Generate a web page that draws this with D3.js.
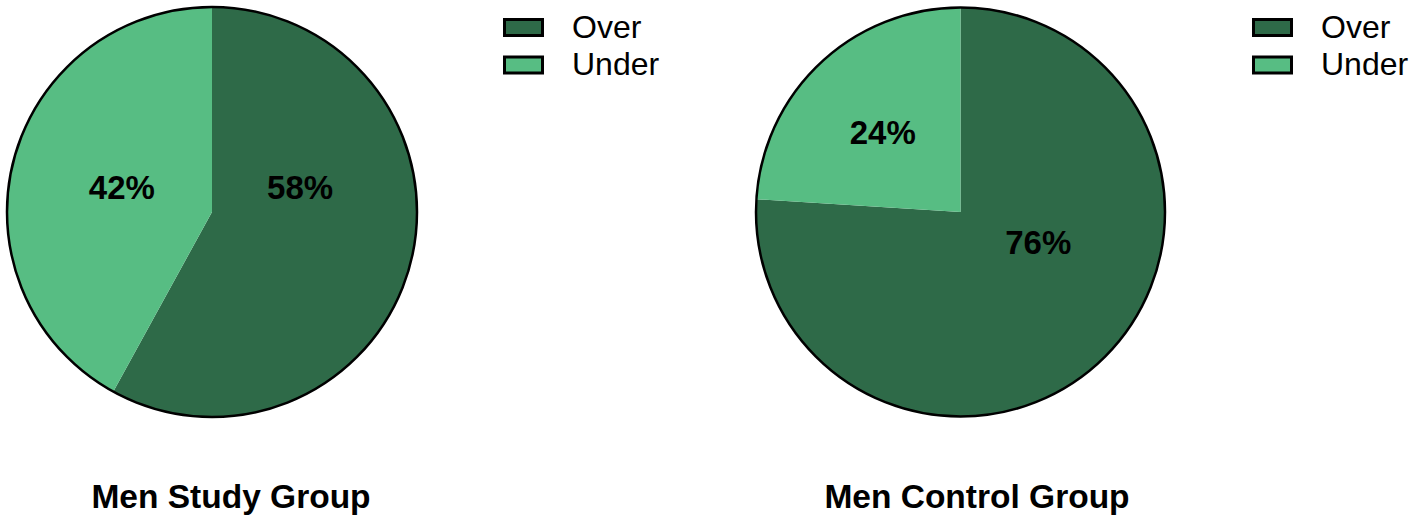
<!DOCTYPE html>
<html><head><meta charset="utf-8">
<script src="https://cdn.jsdelivr.net/npm/d3@7"></script>
<style>html,body{margin:0;padding:0;background:#fff}svg{display:block}</style>
</head><body>
<svg id="c" width="1414" height="523"></svg>
<script>
const categories = ["Over", "Under"];
const groups = ["Men Study Group", "Men Control Group"];
const studyValues = [58, 42];
const controlValues = [76, 24];
const seriesValues = [studyValues, controlValues];

const colors = ["#2e6a48", "#57bd83"];
// layout (per panel)
const panels = [
  {cx: 212, cy: 212, r: 205, legendX: 503, titleX: 231,
   labelPos: [[0.43, -0.12], [-0.44, -0.12]]},
  {cx: 960.5, cy: 212, r: 204.5, legendX: 1252, titleX: 977,
   labelPos: [[0.38, 0.15], [-0.38, -0.39]]}
];

const svg = d3.select("#c");
const pie = d3.pie().sort(null).value(d => d);
const color = d3.scaleOrdinal().domain(categories).range(colors);

panels.forEach((p, gi) => {
  const g = svg.append("g").attr("transform", `translate(${p.cx},${p.cy})`);
  const arc = d3.arc().innerRadius(0).outerRadius(p.r);
  const arcs = pie(seriesValues[gi]);
  g.selectAll("path.slice").data(arcs).join("path")
    .attr("class", "slice")
    .attr("d", arc)
    .attr("fill", (d, i) => color(categories[i]));
  g.append("circle").attr("r", p.r).attr("fill", "none")
    .attr("stroke", "#000").attr("stroke-width", 2.5);
  g.selectAll("text.lab").data(arcs).join("text")
    .attr("class", "lab")
    .attr("x", (d, i) => p.labelPos[i][0] * p.r)
    .attr("y", (d, i) => p.labelPos[i][1] * p.r)
    .attr("text-anchor", "middle")
    .attr("dominant-baseline", "central")
    .attr("font-family", "Liberation Sans, Arial, sans-serif")
    .attr("font-weight", "bold")
    .attr("font-size", 33)
    .text(d => d.data + "%");

  // legend
  const lg = svg.append("g").attr("transform", `translate(${p.legendX},0)`);
  categories.forEach((c, i) => {
    const y = 18 + i * 37.5;
    lg.append("rect").attr("x", 1.5).attr("y", y + 1.5)
      .attr("width", 38).attr("height", 16)
      .attr("fill", color(c)).attr("stroke", "#000").attr("stroke-width", 3);
    lg.append("text").attr("x", 69).attr("y", y + 19.5)
      .attr("font-family", "Liberation Sans, Arial, sans-serif")
      .attr("font-size", 32).attr("fill", "#000").text(c);
  });

  svg.append("text").attr("x", p.titleX).attr("y", 508)
    .attr("text-anchor", "middle")
    .attr("font-family", "Liberation Sans, Arial, sans-serif")
    .attr("font-weight", "bold").attr("font-size", 33.5)
    .text(groups[gi]);
});
</script>
</body></html>
